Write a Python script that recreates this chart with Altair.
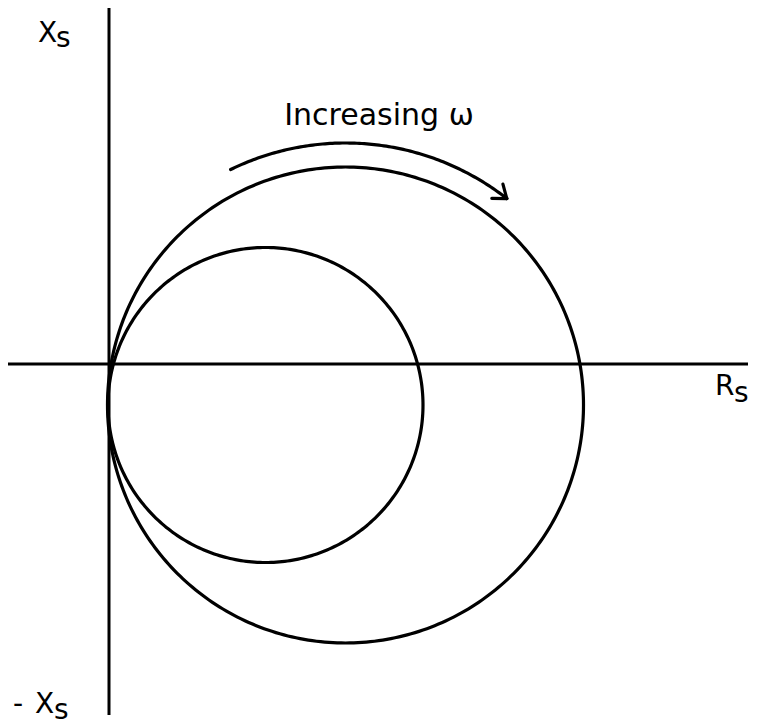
import altair as alt
import numpy as np
import pandas as pd

# Impedance-plane loci: two circles tangent to the reactance axis
circle_names = ["outer", "inner"]
circle_cx = [236.5, 156.5]
circle_cy = [-41.0, -41.0]
circle_r = [238.0, 157.5]

# Direction-of-travel arc (concentric with the outer circle)
arc_cx, arc_cy, arc_r = 236.5, -41.0, 262.0
arc_start_deg, arc_end_deg = 116.0, 52.0
head_len, head_spread_deg = 15.0, 37.0

# Axis extents
x_axis_span = [-101.0, 639.0]
y_axis_span = [-351.0, 356.0]

# Text labels
label_text = ["X", "s", "R", "s", "-", "X", "s", "Increasing ω"]
label_x = [-71, -53, 606, 625, -96, -74, -55, 270]
label_y = [322, 317, -31, -38, -349, -349, -355, 239]
label_size = [28, 28, 28, 28, 28, 28, 28, 30]
label_align = ["left", "left", "left", "left", "left", "left", "left", "center"]

X_DOMAIN = [-109, 651]
Y_DOMAIN = [-362, 364]

rows = []
t = np.linspace(0, 2 * np.pi, 361)
for name, cx, cy, r in zip(circle_names, circle_cx, circle_cy, circle_r):
    for i, a in enumerate(t):
        rows.append({"g": name, "i": i, "x": cx + r * np.cos(a), "y": cy + r * np.sin(a)})

ta = np.radians(np.linspace(arc_start_deg, arc_end_deg, 120))
for i, a in enumerate(ta):
    rows.append({"g": "arc", "i": i, "x": arc_cx + arc_r * np.cos(a), "y": arc_cy + arc_r * np.sin(a)})

# Open arrowhead at the clockwise end of the arc
te = np.radians(arc_end_deg)
tip_x = arc_cx + arc_r * np.cos(te)
tip_y = arc_cy + arc_r * np.sin(te)
back = np.arctan2(np.cos(te), -np.sin(te))
for k, sgn in enumerate([1, -1]):
    ang = back + sgn * np.radians(head_spread_deg)
    rows.append({"g": f"head{k}", "i": 0, "x": tip_x + head_len * np.cos(ang), "y": tip_y + head_len * np.sin(ang)})
    rows.append({"g": f"head{k}", "i": 1, "x": tip_x, "y": tip_y})

curves = pd.DataFrame(rows)

xs = alt.Scale(domain=X_DOMAIN, nice=False, zero=False)
ys = alt.Scale(domain=Y_DOMAIN, nice=False, zero=False)

lines = alt.Chart(curves).mark_line(color="black", strokeWidth=3.2, strokeCap="round", clip=False).encode(
    x=alt.X("x:Q", scale=xs, axis=None),
    y=alt.Y("y:Q", scale=ys, axis=None),
    detail="g:N",
    order="i:Q",
)

axes_df = pd.DataFrame({
    "x": [x_axis_span[0], 0.0],
    "x2": [x_axis_span[1], 0.0],
    "y": [0.0, y_axis_span[0]],
    "y2": [0.0, y_axis_span[1]],
})
axes = alt.Chart(axes_df).mark_rule(color="black", strokeWidth=3).encode(
    x=alt.X("x:Q", scale=xs, axis=None),
    x2="x2:Q",
    y=alt.Y("y:Q", scale=ys, axis=None),
    y2="y2:Q",
)

labels_df = pd.DataFrame({
    "text": label_text, "x": label_x, "y": label_y,
    "size": label_size, "align": label_align,
})
text_layers = []
for al in ["left", "center"]:
    sub = labels_df[labels_df["align"] == al]
    text_layers.append(
        alt.Chart(sub).mark_text(
            font="DejaVu Sans", color="black", align=al, baseline="alphabetic"
        ).encode(
            x=alt.X("x:Q", scale=xs, axis=None),
            y=alt.Y("y:Q", scale=ys, axis=None),
            text="text:N",
            size=alt.Size("size:Q", scale=None, legend=None),
        )
    )

chart = alt.layer(axes, lines, *text_layers).properties(
    width=760, height=726, padding=0, autosize=alt.AutoSizeParams(type="none"),
    background="white",
).configure_view(stroke=None)

chart.save("out.html", embed_options={"renderer": "svg", "actions": False})
